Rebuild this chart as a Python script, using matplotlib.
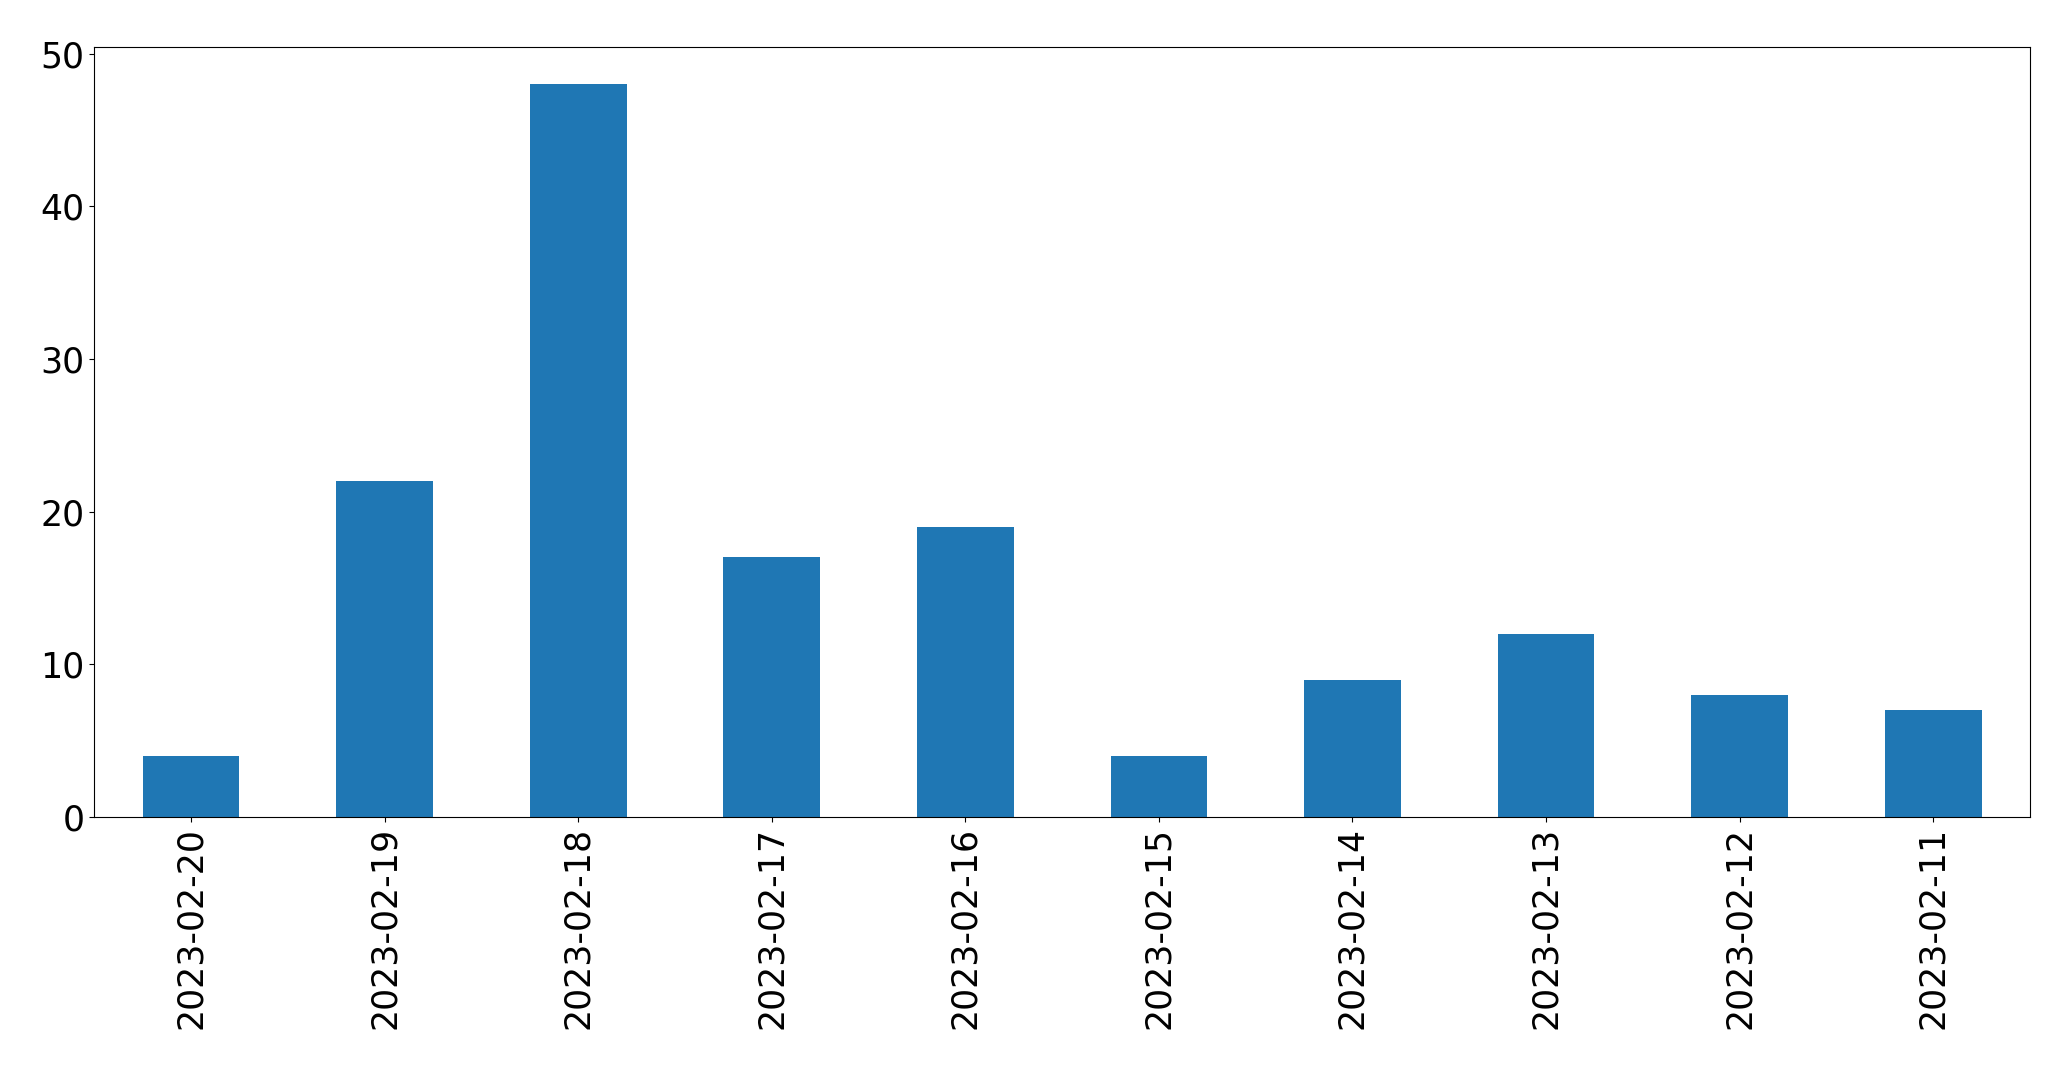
import matplotlib
matplotlib.use("Agg")
import matplotlib.pyplot as plt
import pandas as pd

dates = ["2023-02-20", "2023-02-19", "2023-02-18", "2023-02-17", "2023-02-16",
         "2023-02-15", "2023-02-14", "2023-02-13", "2023-02-12", "2023-02-11"]
counts = [4, 22, 48, 17, 19, 4, 9, 12, 8, 7]

s = pd.Series(counts, index=dates)

fig = plt.figure(figsize=(20.71, 10.69), dpi=100)
ax = fig.add_axes([0.0455, 0.2357, 0.9347, 0.7199])
s.plot.bar(ax=ax, color="#1f77b4", width=0.5)
ax.tick_params(axis="both", labelsize=25)
ax.set_ylim(0, 50.4)
fig.savefig("out.png", dpi=100)
